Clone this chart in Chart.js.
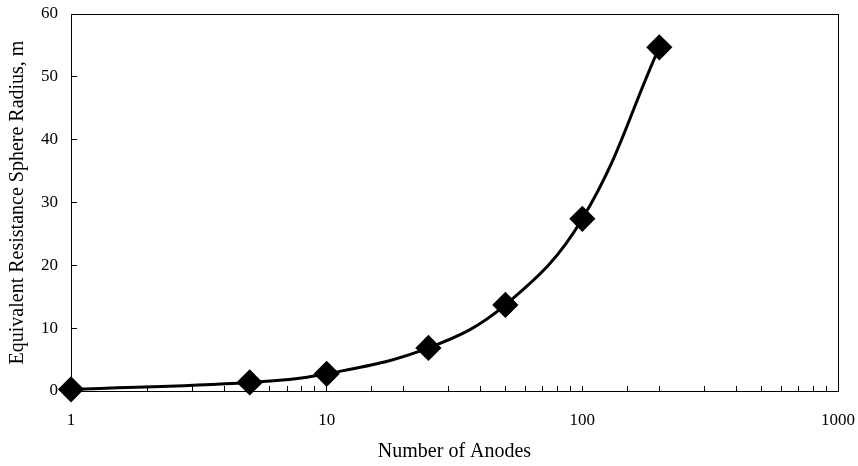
<!DOCTYPE html>
<html lang="en">
  <head>
    <meta charset="UTF-8" />
    <title>Anodes</title>
    <style>
      body { margin: 0; background: #fff; }
    </style>
  </head>
  <body>
    <canvas id="myChart" width="858" height="466"></canvas>
    <script src="https://cdn.jsdelivr.net/npm/chart.js@4.4.1/dist/chart.umd.min.js"></script>
    <script>
      const anodes = [1, 5, 10, 25, 50, 100, 200];
      const radius = [0.27, 1.37, 2.74, 6.85, 13.7, 27.4, 54.7];
      const xTickLabels = [1, 10, 100, 1000];
      const yTickLabels = [0, 10, 20, 30, 40, 50, 60];

      const FONT = "'Liberation Serif', 'Times New Roman', serif";

      // full frame around the plot
      const frame = {
        id: "frame",
        afterDraw(chart) {
          const { ctx, chartArea: a } = chart;
          ctx.save();
          ctx.strokeStyle = "#000";
          ctx.lineWidth = 1;
          ctx.strokeRect(a.left + 0.5, a.top + 0.5, a.right - a.left, a.bottom - a.top);
          ctx.restore();
        },
      };

      const ctx = document.getElementById("myChart");
      const myChart = new Chart(ctx, {
        type: "scatter",
        data: {
          datasets: [
            {
              label: "Radius",
              data: anodes.map((n, i) => ({ x: n, y: radius[i] })),
              showLine: true,
              clip: false,
              borderColor: "#000",
              backgroundColor: "#000",
              borderWidth: 3,
              tension: 0.4,
              pointStyle: "rectRot",
              pointRadius: 11,
              pointHoverRadius: 11,
            },
          ],
        },
        options: {
          responsive: false,
          animation: false,
          layout: { padding: { top: 12, right: 20 } },
          plugins: {
            legend: { display: false },
            tooltip: { enabled: false },
          },
          scales: {
            x: {
              type: "logarithmic",
              min: 1,
              max: 1000,
              afterFit(s) {
                s.height = 75;
                s.paddingLeft = 0;
                s.paddingRight = 0;
              },
              grid: {
                drawOnChartArea: false,
                tickLength: -5,
                color: "#000",
              },
              border: { color: "#000" },
              ticks: {
                autoSkip: false,
                maxRotation: 0,
                padding: 24,
                color: "#000",
                font: { family: FONT, size: 17 },
                callback: (v) => (xTickLabels.includes(v) ? String(v) : ""),
              },
              title: {
                display: true,
                text: "Number of Anodes",
                color: "#000",
                font: { family: FONT, size: 20 },
                padding: { top: 4, bottom: 2 },
              },
            },
            y: {
              min: 0,
              max: 60,
              afterFit(s) {
                s.width = 71;
                s.paddingTop = 0;
                s.paddingBottom = 0;
              },
              afterBuildTicks(s) {
                s.ticks = yTickLabels.map((v) => ({ value: v }));
              },
              grid: {
                drawOnChartArea: false,
                tickLength: -6,
                color: "#000",
              },
              border: { color: "#000" },
              ticks: {
                padding: 19,
                color: "#000",
                font: { family: FONT, size: 17 },
              },
              title: {
                display: true,
                text: "Equivalent Resistance Sphere Radius, m",
                color: "#000",
                font: { family: FONT, size: 20 },
                padding: { top: 6, bottom: 0 },
              },
            },
          },
        },
        plugins: [frame],
      });
    </script>
  </body>
</html>
